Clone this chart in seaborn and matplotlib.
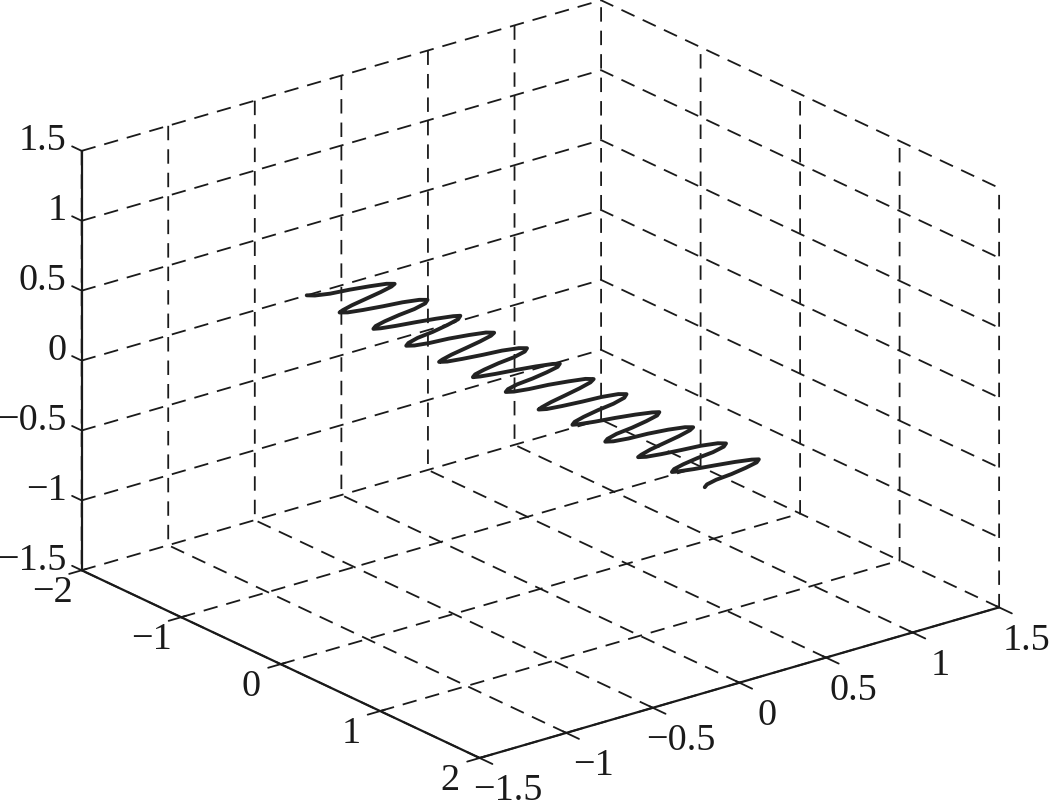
import matplotlib
matplotlib.use("Agg")
import matplotlib.pyplot as plt
import seaborn as sns

x_values = [
 -2.00,-1.97,-1.94,-1.92,-1.89,-1.86,-1.83,-1.81,-1.78,-1.75,-1.72,-1.69,
 -1.67,-1.64,-1.61,-1.58,-1.56,-1.53,-1.50,-1.47,-1.44,-1.42,-1.39,-1.36,
 -1.33,-1.31,-1.28,-1.25,-1.22,-1.19,-1.17,-1.14,-1.11,-1.08,-1.06,-1.03,
 -1.00,-0.97,-0.94,-0.92,-0.89,-0.86,-0.83,-0.81,-0.78,-0.75,-0.72,-0.69,
 -0.67,-0.64,-0.61,-0.58,-0.56,-0.53,-0.50,-0.47,-0.44,-0.42,-0.39,-0.36,
 -0.33,-0.31,-0.28,-0.25,-0.22,-0.19,-0.17,-0.14,-0.11,-0.08,-0.06,-0.03,
 0.00,0.03,0.06,0.08,0.11,0.14,0.17,0.19,0.22,0.25,0.28,0.31,
 0.33,0.36,0.39,0.42,0.44,0.47,0.50,0.53,0.56,0.58,0.61,0.64,
 0.67,0.69,0.72,0.75,0.78,0.81,0.83,0.86,0.89,0.92,0.94,0.97,
 1.00,1.03,1.06,1.08,1.11,1.14,1.17,1.19,1.22,1.25,1.28,1.31,
 1.33,1.36,1.39,1.42,1.44,1.47,1.50,1.53,1.56,1.58,1.61,1.64,
 1.67,1.69,1.72,1.75,1.78,1.81,1.83,1.86,1.89,1.92,1.94,1.97,
 2.00]
y_values = [
 -0.20,-0.17,-0.10,0.00,0.10,0.18,0.21,0.18,0.10,0.00,-0.10,-0.17,
 -0.20,-0.17,-0.10,0.00,0.10,0.18,0.21,0.18,0.10,0.00,-0.10,-0.17,
 -0.20,-0.17,-0.10,0.00,0.10,0.18,0.21,0.18,0.10,0.00,-0.10,-0.17,
 -0.20,-0.17,-0.10,0.00,0.10,0.18,0.21,0.18,0.10,0.00,-0.10,-0.17,
 -0.20,-0.17,-0.10,0.00,0.10,0.18,0.21,0.18,0.10,0.00,-0.10,-0.17,
 -0.20,-0.17,-0.10,0.00,0.10,0.18,0.21,0.18,0.10,0.00,-0.10,-0.17,
 -0.20,-0.17,-0.10,0.00,0.10,0.18,0.21,0.18,0.10,0.00,-0.10,-0.17,
 -0.20,-0.17,-0.10,0.00,0.10,0.18,0.21,0.18,0.10,0.00,-0.10,-0.17,
 -0.20,-0.17,-0.10,0.00,0.10,0.18,0.21,0.18,0.10,0.00,-0.10,-0.17,
 -0.20,-0.17,-0.10,0.00,0.10,0.18,0.21,0.18,0.10,0.00,-0.10,-0.17,
 -0.20,-0.17,-0.10,0.00,0.10,0.18,0.21,0.18,0.10,0.00,-0.10,-0.17,
 -0.20,-0.17,-0.10,0.00,0.10,0.18,0.21,0.18,0.10,0.00,-0.10,-0.17,
 -0.20]
z_values = [
 0,-.002,-.004,-.005,-.006,-.007,-.008,-.01,-.011,-.012,-.013,-.013,
 -.012,-.012,-.01,-.009,-.01,-.011,-.012,-.016,-.018,-.018,-.017,-.016,
 -.015,-.015,-.013,-.012,-.013,-.014,-.015,-.019,-.022,-.024,-.025,-.026,
 -.025,-.024,-.021,-.019,-.019,-.02,-.022,-.026,-.028,-.03,-.031,-.031,
 -.03,-.028,-.024,-.021,-.02,-.021,-.022,-.025,-.027,-.027,-.027,-.026,
 -.025,-.024,-.021,-.019,-.019,-.02,-.022,-.024,-.024,-.023,-.022,-.021,
 -.02,-.018,-.015,-.014,-.015,-.016,-.018,-.024,-.028,-.032,-.035,-.036,
 -.035,-.032,-.026,-.02,-.016,-.014,-.015,-.02,-.024,-.027,-.029,-.03,
 -.03,-.029,-.027,-.026,-.028,-.031,-.033,-.036,-.038,-.039,-.04,-.041,
 -.04,-.038,-.033,-.028,-.025,-.026,-.027,-.031,-.034,-.036,-.038,-.04,
 -.04,-.038,-.034,-.03,-.029,-.03,-.032,-.034,-.035,-.034,-.033,-.032,
 -.032,-.031,-.03,-.03,-.031,-.033,-.035,-.036,-.036,-.035,-.033,-.031,
 -.03]

x_ticks = [-2, -1, 0, 1, 2]
x_tick_labels = ["\u22122", "\u22121", "0", "1", "2"]
yz_ticks = [-1.5, -1, -0.5, 0, 0.5, 1, 1.5]
yz_tick_labels = ["\u22121.5", "\u22121", "\u22120.5", "0", "0.5", "1", "1.5"]

INK = "#1a1a1a"
GRID = dict(color=INK, linewidth=1.3, linestyle=(0, (8, 5)), zorder=1, clip_on=False)

sns.set_theme(style="white")
plt.rcParams["font.family"] = ["Liberation Serif", "DejaVu Sans"]

fig = plt.figure(figsize=(10.53, 8.05), dpi=100, facecolor="white")
ax = fig.add_axes([3 / 1053, 12.5 / 805, 1, 1], projection="3d", proj_type="ortho")
ax.computed_zorder = False
ax.view_init(elev=21.7, azim=-38.1)
ax.set_box_aspect((643, 658, 450), zoom=1.239)
ax.patch.set_alpha(0)

xlo, xhi = x_ticks[0], x_ticks[-1]
ylo, yhi = yz_ticks[0], yz_ticks[-1]
zlo, zhi = yz_ticks[0], yz_ticks[-1]

# Grid drawn per tick, each shared edge only once so the dashes stay open.
for xt in x_ticks:
    ax.plot([xt, xt, xt], [ylo, yhi, yhi], [zlo, zlo, zhi], **GRID)
for yt in yz_ticks:
    if yt == yhi:
        ax.plot([xhi, xlo], [yt, yt], [zlo, zlo], **GRID)
    else:
        ax.plot([xhi, xlo, xlo], [yt, yt, yt], [zlo, zlo, zhi], **GRID)
for zt in yz_ticks:
    if zt != zlo:
        ax.plot([xlo, xlo, xhi], [ylo, yhi, yhi], [zt, zt, zt], **GRID)

sns.lineplot(x=x_values, y=y_values, ax=ax, estimator=None, sort=False,
             color="#222222", linewidth=2.8, legend=False, zorder=3, clip_on=False)
line = ax.lines[-1]
line.set_3d_properties(zs=z_values)
line.set_solid_joinstyle("round")

ax.set_xlim(xlo, xhi, view_margin=0)
ax.set_ylim(ylo, yhi, view_margin=0)
ax.set_zlim(zlo, zhi, view_margin=0)
ax.set_xticks(x_ticks, x_tick_labels)
ax.set_yticks(yz_ticks, yz_tick_labels)
ax.set_zticks(yz_ticks, yz_tick_labels)
ax.set_xlabel("")
ax.set_ylabel("")
ax.grid(False)

ax.zaxis._axinfo["juggled"] = (1, 2, 0)
for axis in (ax.xaxis, ax.yaxis, ax.zaxis):
    axis.set_pane_color((1, 1, 1, 0))
    axis.pane.set_edgecolor("none")
    axis.line.set_color(INK)
    axis.line.set_linewidth(1.6)
TICK_LW = {True: 1.3, False: 1.0}
ax.xaxis._axinfo["tick"].update(inward_factor=0.3, outward_factor=0.12, color=INK, linewidth=TICK_LW)
ax.yaxis._axinfo["tick"].update(inward_factor=0.4, outward_factor=0.1, color=INK, linewidth=TICK_LW)
ax.zaxis._axinfo["tick"].update(inward_factor=0.02, outward_factor=0.3, color=INK, linewidth=TICK_LW)

ax.tick_params(axis="x", labelsize=27.5, colors=INK, pad=9)
ax.tick_params(axis="y", labelsize=27.5, colors=INK, pad=13)
ax.tick_params(axis="z", labelsize=27.5, colors=INK, pad=-3)
for t in ax.get_xticklabels() + ax.get_yticklabels():
    t.set_ha("center"); t.set_va("baseline")
for t in ax.get_zticklabels():
    t.set_ha("right"); t.set_va("baseline")

fig.savefig("out.png", dpi=100)
